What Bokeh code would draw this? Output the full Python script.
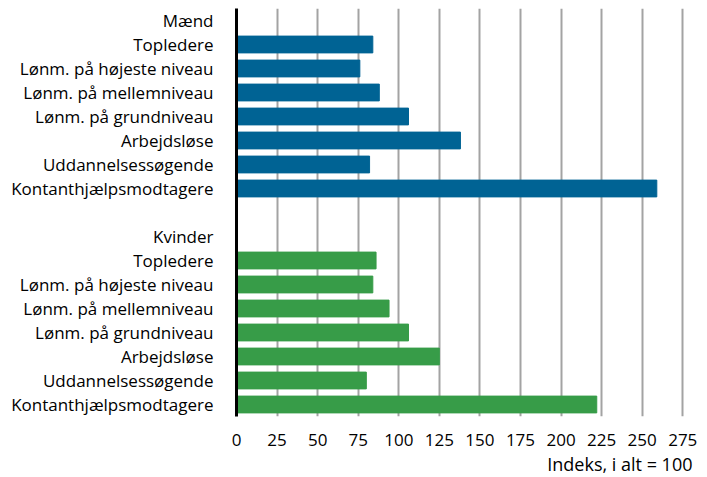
from bokeh.plotting import figure
from bokeh.models import Range1d, FixedTicker, Title, ColumnDataSource
from bokeh.embed import file_html
from bokeh.resources import INLINE

categories = ["Topledere", "Lønm. på højeste niveau", "Lønm. på mellemniveau",
              "Lønm. på grundniveau", "Arbejdsløse", "Uddannelsessøgende",
              "Kontanthjælpsmodtagere"]
group_men = "Mænd"
group_women = "Kvinder"
men = [84, 76, 88, 106, 138, 82, 259]
women = [86, 84, 94, 106, 125, 80, 222]
x_ticks = [0, 25, 50, 75, 100, 125, 150, 175, 200, 225, 250, 275]
x_label = "Indeks, i alt = 100"

FONT = "Open Sans"
BLUE = "#006394"
GREEN = "#379c48"

n = len(categories)
men_rows = [1 + i for i in range(n)]
women_rows = [n + 3 + i for i in range(n)]
total_rows = 2 * n + 3

labels = {0: group_men, n + 1: "", n + 2: group_women}
for i, c in enumerate(categories):
    labels[men_rows[i]] = c
    labels[women_rows[i]] = c

p = figure(width=704, height=477, output_backend="svg", toolbar_location=None,
           x_range=Range1d(0, 281), y_range=Range1d(total_rows - 0.5, -0.5),
           min_border_left=236, min_border_right=12, min_border_top=8,
           min_border_bottom=61)

src_m = ColumnDataSource(dict(y=men_rows, v=men))
src_w = ColumnDataSource(dict(y=women_rows, v=women))
p.hbar(y="y", right="v", left=0, height=0.7, color=BLUE, source=src_m)
p.hbar(y="y", right="v", left=0, height=0.7, color=GREEN, source=src_w)

p.outline_line_color = None
p.ygrid.visible = False
p.xgrid.grid_line_color = "#a3a3a3"
p.xgrid.grid_line_width = 2
p.xaxis.ticker = FixedTicker(ticks=x_ticks)
p.xaxis.axis_line_color = None
p.xaxis.major_tick_line_color = None
p.xaxis.minor_tick_line_color = None
p.xaxis.major_label_text_font = FONT
p.xaxis.major_label_text_font_size = "17px"
p.xaxis.major_label_text_color = "#000000"
p.xaxis.major_label_standoff = 11

p.yaxis.ticker = FixedTicker(ticks=list(range(total_rows)))
p.yaxis.major_label_overrides = labels
p.yaxis.axis_line_color = "#000000"
p.yaxis.axis_line_width = 3
p.yaxis.major_tick_line_color = None
p.yaxis.minor_tick_line_color = None
p.yaxis.major_label_text_font = FONT
p.yaxis.major_label_text_font_size = "17px"
p.yaxis.major_label_text_color = "#000000"
p.yaxis.major_label_standoff = 17

t = Title(text=x_label, align="right", text_font=FONT, text_font_size="18px",
          text_font_style="normal", text_color="#000000", standoff=2)
p.add_layout(t, "below")

open("out.html", "w").write(file_html(p, INLINE))
